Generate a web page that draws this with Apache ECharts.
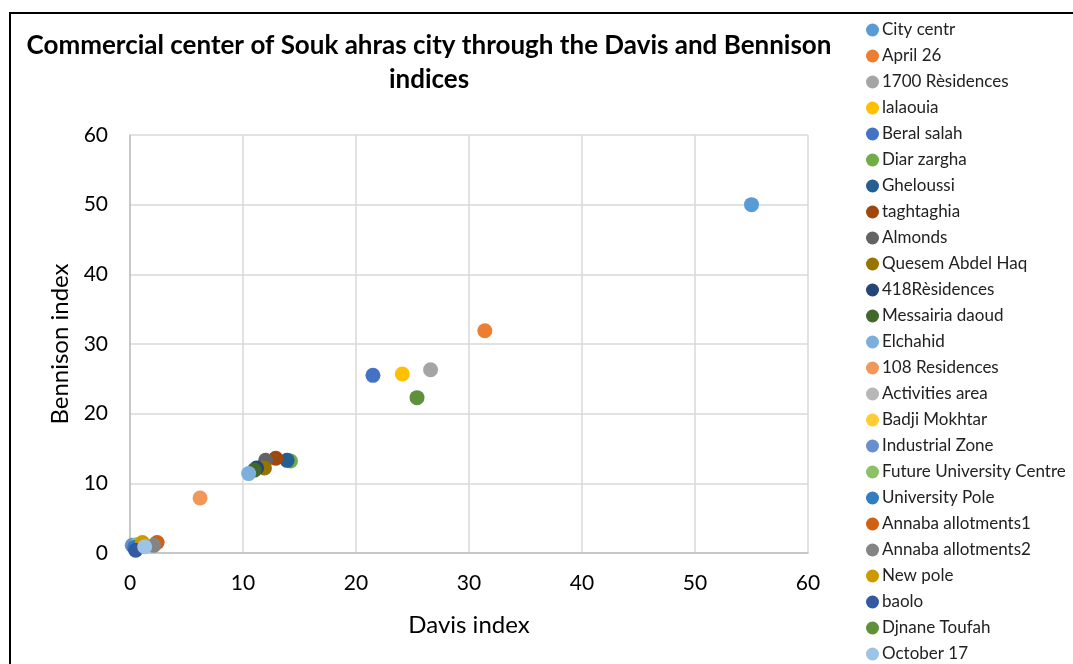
<!DOCTYPE html>
<html>
<head>
<meta charset="utf-8">
<script src="https://cdn.jsdelivr.net/npm/echarts@6/dist/echarts.min.js"></script>
<style>
  html, body { margin: 0; padding: 0; background: #fff; }
  #chart { width: 1073px; height: 664px; }
</style>
</head>
<body>
<div id="chart"></div>
<script>
// Neighbourhoods of the commercial centre
const districts = [
  "City centr", "April 26", "1700 Rèsidences", "lalaouia", "Beral salah",
  "Diar zargha", "Gheloussi", "taghtaghia", "Almonds", "Quesem Abdel Haq",
  "418Rèsidences", "Messairia daoud", "Elchahid", "108 Residences", "Activities area",
  "Badji Mokhtar", "Industrial Zone", "Future University Centre", "University Pole", "Annaba allotments1",
  "Annaba allotments2", "New pole", "baolo", "Djnane Toufah", "October 17"
];

// Davis index per district
const davisIndex = [
  55.0, 31.4, 26.6, 24.1, 21.5,
  14.2, 13.9, 12.9, 12.0, 11.9,
  11.2, 11.0, 10.5, 6.2, 1.0,
  1.0, 0.2, 0.6, 0.4, 2.4,
  2.1, 1.1, 0.5, 25.4, 1.3
];

// Bennison index per district
const bennisonIndex = [
  50.0, 31.9, 26.3, 25.7, 25.5,
  13.2, 13.3, 13.6, 13.3, 12.2,
  12.2, 11.9, 11.4, 7.9, 1.0,
  1.3, 1.1, 1.2, 0.8, 1.5,
  1.1, 1.5, 0.4, 22.3, 0.9
];

// Axis tick values
const axisTicks = [0, 10, 20, 30, 40, 50, 60];

// Office-style series palette
const palette = [
  "#5B9BD5", "#ED7D31", "#A5A5A5", "#FFC000", "#4472C4",
  "#70AD47", "#255E91", "#9E480E", "#636363", "#997300",
  "#264478", "#43682B", "#7CAFDD", "#F1975A", "#B7B7B7",
  "#FFCD33", "#698ED0", "#8CC168", "#327DC2", "#D26012",
  "#848484", "#CC9A00", "#335AA1", "#5F913A", "#9DC3E6"
];

const chart = echarts.init(document.getElementById('chart'), null, { renderer: 'canvas' });

const font = "Lato, 'Open Sans', sans-serif";

const series = districts.map((name, i) => ({
  name: name,
  type: 'scatter',
  symbol: 'circle',
  symbolSize: 15,
  itemStyle: { color: palette[i], opacity: 1 },
  data: [[davisIndex[i], bennisonIndex[i]]]
}));

chart.setOption({
  backgroundColor: '#fff',
  animation: false,
  color: palette,
  title: {
    text: 'Commercial center of Souk ahras city through the Davis and Bennison\nindices',
    left: 424,
    top: 24,
    textAlign: 'center',
    textStyle: {
      fontFamily: font,
      fontSize: 26,
      fontWeight: 'bold',
      color: '#000',
      lineHeight: 34
    }
  },
  legend: {
    orient: 'vertical',
    left: 866,
    top: 21,
    height: 660,
    padding: 0,
    icon: 'circle',
    itemWidth: 13,
    itemHeight: 13,
    itemGap: 8,
    textStyle: {
      fontFamily: font,
      fontSize: 17,
      color: '#222',
      lineHeight: 18,
      padding: [0, 0, 0, -2]
    },
    data: districts
  },
  grid: {
    left: 130,
    top: 135,
    width: 678,
    height: 418,
    containLabel: false
  },
  xAxis: {
    type: 'value',
    min: axisTicks[0],
    max: axisTicks[axisTicks.length - 1],
    interval: 10,
    name: 'Davis index',
    nameLocation: 'middle',
    nameGap: 60,
    nameTextStyle: { fontFamily: font, fontSize: 24, color: '#000' },
    axisLine: { show: true, lineStyle: { color: '#bfbfbf', width: 1.5 } },
    axisTick: { show: false },
    axisLabel: { fontFamily: font, fontSize: 21, color: '#000', margin: 20 },
    splitLine: { show: true, lineStyle: { color: '#d9d9d9', width: 1.5 } }
  },
  yAxis: {
    type: 'value',
    min: axisTicks[0],
    max: axisTicks[axisTicks.length - 1],
    interval: 10,
    name: 'Bennison index',
    nameLocation: 'middle',
    nameGap: 58,
    nameRotate: 90,
    nameTextStyle: { fontFamily: font, fontSize: 24, color: '#000' },
    axisLine: { show: true, lineStyle: { color: '#bfbfbf', width: 1.5 } },
    axisTick: { show: false },
    axisLabel: { fontFamily: font, fontSize: 21, color: '#000', margin: 22 },
    splitLine: { show: true, lineStyle: { color: '#d9d9d9', width: 1.5 } }
  },
  graphic: [{
    type: 'rect',
    silent: true,
    shape: { x: 10, y: 13, width: 1100, height: 700 },
    style: { fill: 'none', stroke: '#000', lineWidth: 2 }
  }],
  series: series
});
</script>
</body>
</html>
